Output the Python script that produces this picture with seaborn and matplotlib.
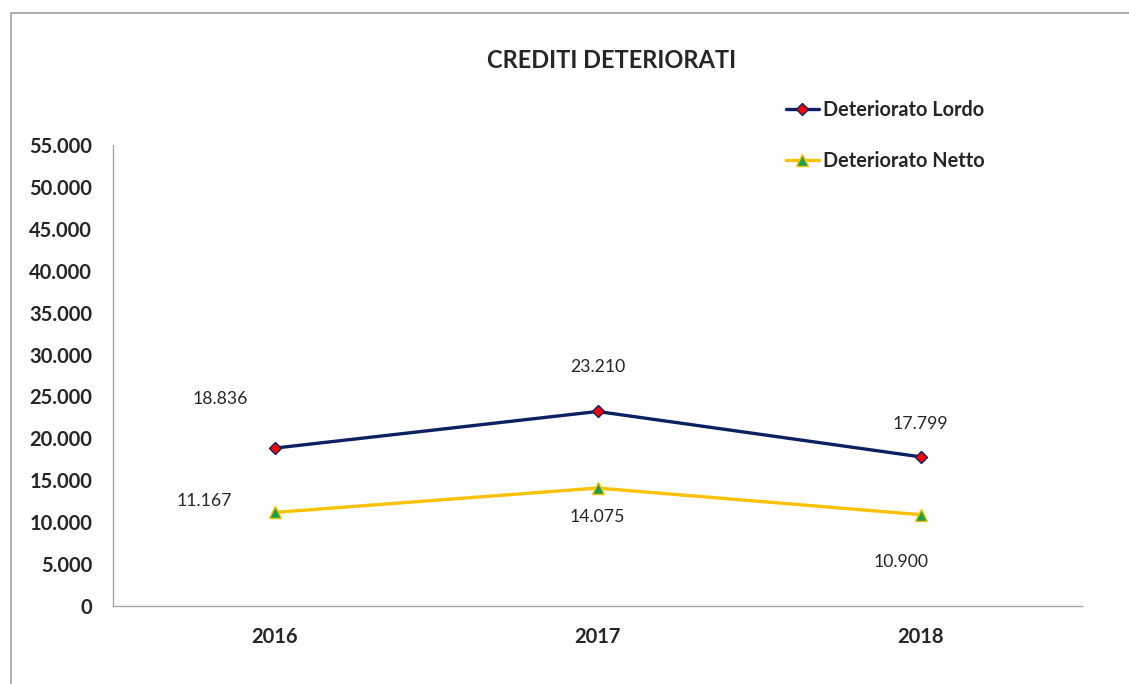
import matplotlib as mpl
import matplotlib.pyplot as plt
import matplotlib.patches as mpatches
from matplotlib.ticker import FuncFormatter
import seaborn as sns
import pandas as pd

anni = ["2016", "2017", "2018"]
lordo = [18836, 23210, 17799]
netto = [11167, 14075, 10900]
serie = ["Deteriorato Lordo", "Deteriorato Netto"]

sns.set_style("white")
plt.rcParams["font.family"] = ["Lato", "DejaVu Sans"]

df = pd.DataFrame({"anno": anni * 2,
                   "valore": lordo + netto,
                   "serie": [serie[0]] * 3 + [serie[1]] * 3})

fig = plt.figure(figsize=(11.29, 6.84), dpi=100)
ax = fig.add_axes([0.1001, 0.114, 0.8583, 0.674])

sns.lineplot(data=df[df.serie == serie[0]], x="anno", y="valore", ax=ax,
             color="#0b2161", lw=2.4, marker="D", markersize=6,
             markerfacecolor="#ff0000", markeredgecolor="#0b2161", markeredgewidth=1,
             label=serie[0])
sns.lineplot(data=df[df.serie == serie[1]], x="anno", y="valore", ax=ax,
             color="#ffc000", lw=2.4, marker="^", markersize=8,
             markerfacecolor="#1aa04a", markeredgecolor="#ffc000", markeredgewidth=1,
             label=serie[1])

fmt = lambda v: f"{v:,.0f}".replace(",", ".")

# etichette dati
off_l = [(-54, 49), (0, 44), (0, 33)]
off_n = [(-70, 11), (0, -29), (-20, -47)]
for i, (a, b) in enumerate(zip(lordo, netto)):
    ax.annotate(fmt(a), (i, a), xytext=off_l[i], textcoords="offset pixels",
                ha="center", va="center", fontsize=12.7)
    ax.annotate(fmt(b), (i, b), xytext=off_n[i], textcoords="offset pixels",
                ha="center", va="center", fontsize=12.7)

ax.set_xlim(-0.5, 2.5)
ax.set_ylim(0, 55000)
ax.set_yticks(range(0, 55001, 5000))
ax.yaxis.set_major_formatter(FuncFormatter(lambda v, p: fmt(v)))
ax.tick_params(axis="both", length=0, labelsize=14.5)
ax.tick_params(axis="x", pad=15)
ax.tick_params(axis="y", pad=15)
for t in ax.get_xticklabels() + ax.get_yticklabels():
    t.set_fontweight("bold")
ax.set_xlabel("")
ax.set_ylabel("")
for s in ["top", "right"]:
    ax.spines[s].set_visible(False)
for s in ["left", "bottom"]:
    ax.spines[s].set_color("#a6a6a6")
    ax.spines[s].set_linewidth(1)

fig.text(0.542, 0.912, "CREDITI DETERIORATI", ha="center", va="center",
         fontsize=17, fontweight="bold")

ax.get_legend().remove()
h, l = ax.get_legend_handles_labels()
leg = fig.legend(h, l, loc="upper left", bbox_to_anchor=(0.680, 0.880),
                 frameon=False, handlelength=1.66, handletextpad=0.2,
                 labelspacing=1.55, prop={"weight": "bold", "size": 14.3})

# bordo dell'area del grafico (tagliato a destra e in basso)
fig.add_artist(mpatches.Rectangle((11 / 1129, -0.2), 2, 1 - 13 / 684 + 0.2,
                                  transform=fig.transFigure, fill=False,
                                  edgecolor="#a0a0a0", lw=1.2, clip_on=False))

fig.savefig("out.png", dpi=100)
